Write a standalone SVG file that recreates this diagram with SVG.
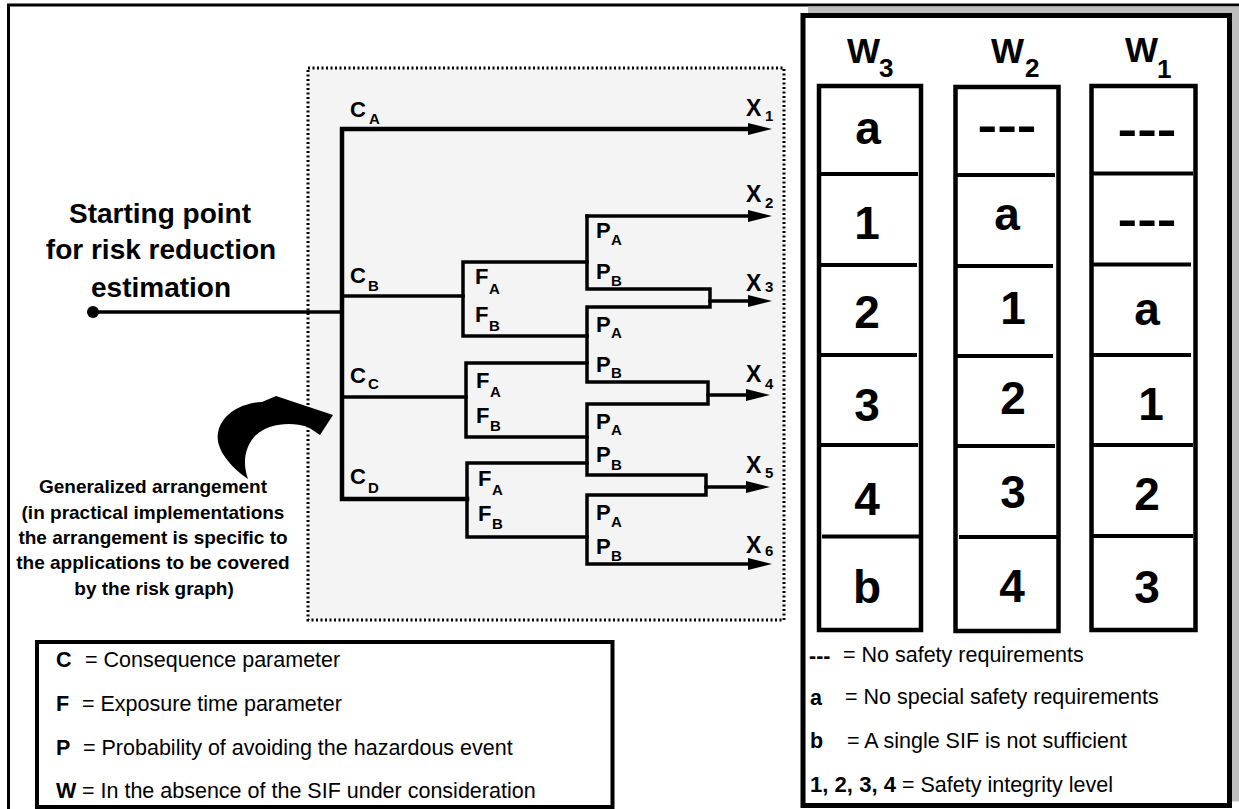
<svg xmlns="http://www.w3.org/2000/svg" width="1239" height="809" viewBox="0 0 1239 809">
<style>
text { font-family: "Liberation Sans", Arial, Helvetica, sans-serif; fill: #000; }
.b { font-weight: bold; }
.big { font-size: 28px; font-weight: bold; text-anchor: middle; }
.gen { font-size: 19px; font-weight: bold; text-anchor: middle; }
.lbl { font-size: 22px; font-weight: bold; }
.xl { font-size: 23px; font-weight: bold; }
.sub { font-size: 15px; font-weight: bold; }
.ln { fill: none; stroke: #000; stroke-width: 3.5; stroke-linecap: square; stroke-linejoin: miter; }
.thick { stroke-width: 4.5; }
.arr { marker-end: url(#ah); }
.col { fill: #fff; stroke: #000; stroke-width: 4.5; }
.dv { stroke: #000; stroke-width: 4; }
.val { font-size: 46px; font-weight: bold; text-anchor: middle; }
.hd { font-size: 35px; font-weight: bold; }
.hs { font-size: 26px; font-weight: bold; }
.leg { font-size: 21.5px; }
</style>
<defs>
<marker id="ah" viewBox="0 0 24 12" markerWidth="24" markerHeight="12" refX="8" refY="6" orient="auto" markerUnits="userSpaceOnUse">
<path d="M0,0 L24,6 L0,12 Z" fill="#000"/>
</marker>
</defs>

<!-- main frame -->
<rect x="8.5" y="5" width="1240" height="820" fill="#fff" stroke="#000" stroke-width="3"/>

<!-- dotted arrangement box -->
<rect id="arrangement-box" x="308" y="68" width="476" height="552" fill="#f4f4f4" stroke="#000" stroke-width="3" stroke-dasharray="2 2.5"/>

<!-- connectors -->
<g id="connectors">
<path class="ln" d="M93,312 H342"/>
<path class="ln thick arr" d="M467,499 H342 V129 H756"/>
<path class="ln" d="M342,296 H463"/>
<path class="ln" d="M342,397 H466"/>
<path class="ln" d="M587,262 H463 V336 H587"/>
<path class="ln" d="M587,363 H466 V437 H587"/>
<path class="ln" d="M587,463 H467 V537 H587"/>
<path class="ln arr" d="M587,216 H756"/>
<path class="ln arr" d="M587,216 V289 H710 V307 H587 V382 H708 V404 H587 V475 H706 V495 H587 V564 H756"/>
<path class="ln arr" d="M710,301 H756"/>
<path class="ln arr" d="M708,395 H754"/>
<path class="ln arr" d="M706,487 H754"/>
<path id="curved-arrow" d="M248,479 C232,468 215,450 218,433 C221,415 240,403 262,402 L276,396 L333,415 L320,435 L308,427 C290,421 268,424 256,435 C245,446 242,462 248,479 Z" fill="#000"/>
</g>

<!-- start node -->
<g id="start">
<circle cx="93" cy="312" r="6" fill="#000"/>
<text class="big" x="160" y="223">Starting point</text>
<text class="big" x="161" y="259">for risk reduction</text>
<text class="big" x="161" y="297">estimation</text>
</g>

<g id="note">
<text class="gen" x="153" y="493">Generalized arrangement</text>
<text class="gen" x="153" y="519">(in practical implementations</text>
<text class="gen" x="153" y="544">the arrangement is specific to</text>
<text class="gen" x="153" y="569">the applications to be covered</text>
<text class="gen" x="154" y="595">by the risk graph)</text>
</g>

<!-- C nodes -->
<g id="c-nodes">
<text class="lbl" x="350" y="117">C<tspan class="sub" x="369" y="124">A</tspan></text>
<text class="lbl" x="350" y="283">C<tspan class="sub" x="368" y="291">B</tspan></text>
<text class="lbl" x="350" y="383">C<tspan class="sub" x="368" y="389">C</tspan></text>
<text class="lbl" x="350" y="484">C<tspan class="sub" x="368" y="493">D</tspan></text>
</g>

<!-- F nodes -->
<g id="f-nodes">
<text class="lbl" x="475" y="284">F<tspan class="sub" x="489" y="294">A</tspan></text>
<text class="lbl" x="475" y="322">F<tspan class="sub" x="489" y="331">B</tspan></text>
<text class="lbl" x="476" y="388">F<tspan class="sub" x="490" y="397">A</tspan></text>
<text class="lbl" x="476" y="423">F<tspan class="sub" x="490" y="431">B</tspan></text>
<text class="lbl" x="478" y="486">F<tspan class="sub" x="492" y="495">A</tspan></text>
<text class="lbl" x="478" y="521">F<tspan class="sub" x="492" y="529">B</tspan></text>
</g>

<!-- P nodes -->
<g id="p-nodes">
<text class="lbl" x="596" y="238">P<tspan class="sub" x="611" y="245">A</tspan></text>
<text class="lbl" x="596" y="279">P<tspan class="sub" x="611" y="286">B</tspan></text>
<text class="lbl" x="596" y="332">P<tspan class="sub" x="611" y="338">A</tspan></text>
<text class="lbl" x="596" y="372">P<tspan class="sub" x="611" y="378">B</tspan></text>
<text class="lbl" x="596" y="429">P<tspan class="sub" x="611" y="435">A</tspan></text>
<text class="lbl" x="596" y="462">P<tspan class="sub" x="611" y="470">B</tspan></text>
<text class="lbl" x="596" y="520">P<tspan class="sub" x="611" y="527">A</tspan></text>
<text class="lbl" x="596" y="554">P<tspan class="sub" x="611" y="561">B</tspan></text>
</g>

<!-- X outputs -->
<g id="x-nodes">
<text class="xl" x="746" y="116">X<tspan class="sub" x="765" y="121">1</tspan></text>
<text class="xl" x="746" y="202">X<tspan class="sub" x="765" y="208">2</tspan></text>
<text class="xl" x="746" y="291">X<tspan class="sub" x="765" y="292">3</tspan></text>
<text class="xl" x="746" y="382">X<tspan class="sub" x="765" y="389">4</tspan></text>
<text class="xl" x="746" y="473">X<tspan class="sub" x="765" y="478">5</tspan></text>
<text class="xl" x="746" y="553">X<tspan class="sub" x="765" y="556">6</tspan></text>
</g>

<!-- parameter legend -->
<g id="legend-params">
<rect x="37" y="642" width="575.5" height="165" fill="#fff" stroke="#000" stroke-width="4"/>
<text class="leg" x="56" y="667"><tspan class="b">C</tspan><tspan x="85">= Consequence parameter</tspan></text>
<text class="leg" x="56" y="711"><tspan class="b">F</tspan><tspan x="82">= Exposure time parameter</tspan></text>
<text class="leg" x="56" y="755"><tspan class="b">P</tspan><tspan x="83">= Probability of avoiding the hazardous event</tspan></text>
<text class="leg" x="56" y="798"><tspan class="b">W</tspan><tspan x="82">= In the absence of the SIF under consideration</tspan></text>
</g>

<!-- right panel -->
<g id="w-panel">
<rect x="808" y="6.5" width="432" height="795" fill="#bdbdbd"/>
<rect x="803" y="15.5" width="426.5" height="790" fill="#fff" stroke="#000" stroke-width="5"/>
</g>

<g id="col-w3">
<text class="hd" x="847" y="63">W<tspan class="hs" x="879" y="77">3</tspan></text>
<rect class="col" x="819" y="86" width="102" height="544"/>
<line class="dv" x1="819" y1="174" x2="918" y2="174"/>
<line class="dv" x1="819" y1="265" x2="917" y2="265"/>
<line class="dv" x1="819" y1="355" x2="917" y2="355"/>
<line class="dv" x1="819" y1="445" x2="918" y2="445"/>
<line class="dv" x1="822" y1="536.5" x2="920" y2="536.5"/>
<text class="val" x="868" y="144">a</text>
<text class="val" x="867" y="239">1</text>
<text class="val" x="867" y="328">2</text>
<text class="val" x="867" y="421">3</text>
<text class="val" x="867" y="515">4</text>
<text class="val" x="867" y="603">b</text>
</g>

<g id="col-w2">
<text class="hd" x="991" y="63">W<tspan class="hs" x="1025" y="77">2</tspan></text>
<rect class="col" x="955.5" y="87" width="103" height="544"/>
<line class="dv" x1="955.5" y1="175" x2="1055" y2="175"/>
<line class="dv" x1="955.5" y1="266" x2="1053" y2="266"/>
<line class="dv" x1="955.5" y1="356" x2="1053" y2="356"/>
<line class="dv" x1="955.5" y1="446" x2="1055" y2="446"/>
<line class="dv" x1="959" y1="537" x2="1057" y2="537"/>
<text class="val" x="1007" y="141" textLength="59" lengthAdjust="spacingAndGlyphs">---</text>
<text class="val" x="1007" y="230">a</text>
<text class="val" x="1013" y="324">1</text>
<text class="val" x="1013" y="414">2</text>
<text class="val" x="1013" y="508">3</text>
<text class="val" x="1012" y="602">4</text>
</g>

<g id="col-w1">
<text class="hd" x="1125" y="62">W<tspan class="hs" x="1157" y="78">1</tspan></text>
<rect class="col" x="1091.5" y="86" width="104" height="544"/>
<line class="dv" x1="1091.5" y1="173.5" x2="1193" y2="173.5"/>
<line class="dv" x1="1091.5" y1="264.5" x2="1191" y2="264.5"/>
<line class="dv" x1="1091.5" y1="355" x2="1191" y2="355"/>
<line class="dv" x1="1091.5" y1="445" x2="1193" y2="445"/>
<line class="dv" x1="1093" y1="536" x2="1193" y2="536"/>
<text class="val" x="1147" y="145" textLength="59" lengthAdjust="spacingAndGlyphs">---</text>
<text class="val" x="1147" y="235" textLength="59" lengthAdjust="spacingAndGlyphs">---</text>
<text class="val" x="1147" y="325">a</text>
<text class="val" x="1151" y="420">1</text>
<text class="val" x="1147" y="510">2</text>
<text class="val" x="1147" y="603">3</text>
</g>

<g id="legend-w">
<text class="leg b" x="809" y="663">---</text>
<text class="leg" x="843" y="662">= No safety requirements</text>
<text class="leg b" x="810" y="705">a</text>
<text class="leg" x="845" y="704">= No special safety requirements</text>
<text class="leg b" x="810" y="748">b</text>
<text class="leg" x="847" y="748">= A single SIF is not sufficient</text>
<text class="leg b" x="810" y="792" textLength="86" lengthAdjust="spacingAndGlyphs">1, 2, 3, 4</text>
<text class="leg" x="902" y="792">= Safety integrity level</text>
</g>
</svg>
